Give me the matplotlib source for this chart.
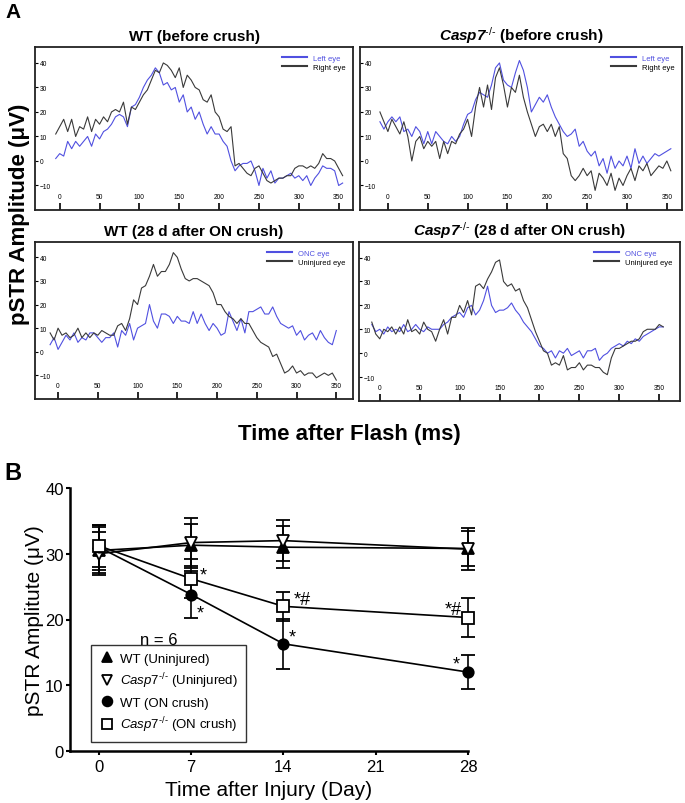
import numpy as np
import matplotlib
matplotlib.use("Agg")
import matplotlib.pyplot as plt
from matplotlib.lines import Line2D

plt.rcParams["font.family"] = ["Liberation Sans", "DejaVu Sans"]
plt.rcParams["mathtext.fontset"] = "custom"
plt.rcParams["mathtext.rm"] = "Liberation Sans"
plt.rcParams["mathtext.it"] = "Liberation Sans:italic"
plt.rcParams["mathtext.bf"] = "Liberation Sans:bold:italic"

nan = np.nan

# ---- panel A: pSTR traces (time in ms, amplitude in uV) ----
t_ms = [-10, -5, 0, 5, 10, 15, 20, 25, 30, 35, 40, 45, 50, 55, 60, 65, 70, 75,
        80, 85, 90, 95, 100, 105, 110, 115, 120, 125, 130, 135, 140, 145, 150,
        155, 160, 165, 170, 175, 180, 185, 190, 195, 200, 205, 210, 215, 220,
        225, 230, 235, 240, 245, 250, 255, 260, 265, 270, 275, 280, 285, 290,
        295, 300, 305, 310, 315, 320, 325, 330, 335, 340, 345, 350, 355]

wt_pre_left = [nan, 1, 3, 2, 8, 5, 8, 6, 8, 10,
               6, 11, 9, 12, 13, 15, 18, 19, 18, 14,
               22, 23, 26, 30, 33, 35, 38, 36, 31, 32,
               29, 30, 24, 27, 20, 22, 17, 20, 15, 11,
               14, 11, 11, 8, 6, 0, -4, -2, -1, -1,
               0, -4, -10, -3, -7, -4, -9, -7, -7, -6,
               -5, -7, -6, -8, -6, -10, -7, -5, -2, -3,
               -3, -4, -10, -9]
wt_pre_right = [nan, 11, 14, 17, 12, 17, 10, 14, 13, 18,
                12, 17, 15, 18, 16, 20, 21, 20, 24, 15,
                22, 21, 24, 27, 29, 33, 37, 36, 40, 39,
                37, 34, 38, 30, 35, 33, 30, 29, 25, 24,
                27, 20, 18, 13, 12, 14, -2, -1, -3, -5,
                -6, -3, -2, -5, -8, -9, -8, -7, -7, -6,
                -6, -3, -2, -2, -3, -2, -3, -1, 3, 1,
                1, 0, -3, -6]

casp_pre_left = [16, 13, 16, 18, 16, 18, 12, 13, 10, 14,
                 12, 7, 12, 7, 12, 10, 8, 7, 10, 8,
                 10, 15, 19, 20, 25, 28, 27, 26, 31, 38,
                 40, 33, 31, 30, 36, 41, 37, 30, 20, 23,
                 26, 24, 27, 22, 18, 15, 12, 10, 11, 13,
                 6, 8, 4, 2, 4, -2, 1, -5, 2, -3,
                 0, -2, 2, -3, 5, -1, 2, -1, 1, 3,
                 2, 3, 4, 5]
casp_pre_right = [20, 16, 12, 17, 14, 11, 16, 10, 0, 8,
                  10, 5, 8, 6, 8, 1, 8, 3, 8, 7,
                  11, 13, 17, 10, 22, 30, 22, 31, 21, 34,
                  38, 31, 22, 30, 28, 35, 26, 20, 15, 10,
                  14, 15, 12, 15, 10, 14, 3, 1, -6, -8,
                  -6, -3, -6, -4, -12, -5, -7, -10, -5, -12,
                  -7, -10, -6, -3, -8, -2, -4, -1, -6, -4,
                  -2, -3, 0, -4]

wt_onc_onc = [3, 6, 1, 4, 7, 5, 8, 4, 6, 5,
              8, 8, 6, 4, 6, 6, 8, 2, 9, 7,
              12, 5, 10, 11, 12, 20, 13, 10, 16, 16,
              15, 12, 15, 13, 13, 12, 17, 12, 16, 12,
              9, 12, 10, 7, 8, 17, 13, 9, 14, 8,
              17, 17, 18, 19, 16, 16, 19, 15, 12, 11,
              10, 11, 7, 9, 5, 7, 8, 5, 9, 6,
              4, 3, 9, nan]
wt_onc_uninj = [8, 5, 10, 7, 8, 6, 7, 10, 6, 8,
                6, 8, 7, 9, 8, 7, 7, 11, 12, 9,
                14, 22, 20, 27, 28, 32, 37, 32, 34, 34,
                37, 42, 40, 35, 31, 30, 31, 31, 30, 29,
                28, 25, 20, 20, 17, 15, 14, 12, 14, 12,
                12, 9, 6, 4, 3, 2, -2, -1, -5, -9,
                -8, -6, -9, -8, -10, -9, -9, -11, -10, -9,
                -10, -9, -12, nan]

casp_onc_onc = [12, 9, 10, 8, 11, 9, 10, 9, 12, 9,
                10, 12, 10, 9, 11, 10, 10, 10, 12, 13,
                15, 16, 17, 15, 19, 20, 16, 18, 22, 28,
                20, 17, 18, 18, 19, 21, 18, 16, 13, 11,
                9, 6, 3, 2, 0, 1, -2, 1, 0, 2,
                -1, 0, 1, -2, 1, 1, 2, -3, -1, 0,
                2, 3, 4, 3, 5, 4, 6, 5, 7, 8,
                9, 10, 11, 11]
casp_onc_uninj = [13, 8, 6, 10, 9, 11, 8, 11, 8, 14,
                  9, 10, 8, 13, 10, 9, 5, 10, 14, 8,
                  15, 15, 20, 17, 22, 16, 28, 29, 27, 31,
                  34, 38, 39, 30, 28, 29, 26, 27, 22, 19,
                  14, 9, 5, 1, 0, -5, -4, -5, -1, -7,
                  -6, -6, -4, -7, -5, -5, -6, -6, -8, -9,
                  -2, 2, 2, 3, 4, 5, 5, 6, 9, 10,
                  10, 10, 12, 11]

trace_xticks = [0, 50, 100, 150, 200, 250, 300, 350]
trace_yticks = [-10, 0, 10, 20, 30, 40]

# ---- panel B: pSTR amplitude over time after injury ----
days = [0, 7, 14, 28]
day_ticks = [0, 7, 14, 21, 28]
wt_uninj = [30.5, 31.3, 31.0, 30.8]
wt_uninj_sem = [3.5, 3.2, 3.2, 2.6]
casp_uninj = [30.0, 31.7, 32.0, 30.7]
casp_uninj_sem = [3.3, 3.8, 3.1, 3.2]
wt_onc = [31.0, 23.8, 16.3, 12.0]
wt_onc_sem = [3.4, 3.6, 3.8, 2.6]
casp_onc = [31.2, 26.2, 22.0, 20.3]
casp_onc_sem = [3.2, 3.0, 2.2, 3.0]

BLUE = "#5050e0"
GREY = "#3a3a3a"
W, H = 685, 804
CASP = "Casp7^{\u2010/\u2010}"

fig = plt.figure(figsize=(W / 100, H / 100), dpi=100)


def add_box(left, top, right, bottom):
    return fig.add_axes([left / W, 1 - bottom / H, (right - left) / W, (bottom - top) / H])


def trace_panel(ax, title, blue_vals, black_vals, labels, xlim):
    t = np.array(t_ms, dtype=float)
    ax.plot(t, np.array(blue_vals, dtype=float), color=BLUE, lw=0.8, label=labels[0])
    ax.plot(t, np.array(black_vals, dtype=float), color=GREY, lw=0.8, label=labels[1])
    ax.set_xlim(*xlim)
    ax.set_ylim(-20, 46.5)
    ax.set_xticks(trace_xticks)
    ax.set_yticks(trace_yticks)
    ax.tick_params(axis="x", direction="in", length=5, width=1.2, pad=-12, labelsize=4.8)
    ax.tick_params(axis="y", direction="in", length=2.5, width=0.8, pad=-3.5, labelsize=4.8)
    plt.setp(ax.get_yticklabels(), ha="left")
    for sp in ax.spines.values():
        sp.set_linewidth(1.3)
        sp.set_color("#222222")
    ax.set_title(title, fontsize=11, fontweight="bold", pad=5)
    leg = ax.legend(loc="upper right", frameon=False, fontsize=5.5, handlelength=3.2,
                    borderaxespad=0.6, labelspacing=0.2, labelcolor=[BLUE, "black"])
    for ln in leg.get_lines():
        ln.set_linewidth(1.5)


ax1 = add_box(35, 48, 353, 211)
trace_panel(ax1, "WT (before crush)", wt_pre_left, wt_pre_right,
            ["Left eye", "Right eye"], (-31, 368))
ax2 = add_box(360, 48, 682, 211)
trace_panel(ax2, "$\\mathbf{" + CASP.replace("^", "}^") + "$ (before crush)",
            casp_pre_left, casp_pre_right, ["Left eye", "Right eye"], (-35, 369))
ax3 = add_box(35, 243, 353, 400)
trace_panel(ax3, "WT (28 d after ON crush)", wt_onc_onc, wt_onc_uninj,
            ["ONC eye", "Uninjured eye"], (-29, 371))
ax4 = add_box(359, 243, 680, 402)
trace_panel(ax4, "$\\mathbf{" + CASP.replace("^", "}^") + "$ (28 d after ON crush)",
            casp_onc_onc, casp_onc_uninj, ["ONC eye", "Uninjured eye"], (-26, 376))

fig.text(20 / W, 1 - 214 / H, "pSTR Amplitude (\u03bcV)", rotation=90, fontsize=16,
         fontweight="bold", ha="center", va="center")
fig.text(349 / W, 1 - 435 / H, "Time after Flash (ms)", fontsize=16,
         fontweight="bold", ha="center", va="center")
fig.text(13 / W, 1 - 13 / H, "A", fontsize=15, fontweight="bold", ha="center", va="center")
fig.text(13 / W, 1 - 474 / H, "B", fontsize=17, fontweight="bold", ha="center", va="center")

# ---- panel B ----
axb = add_box(70, 489, 468, 752)
casp_lab = "$\\mathit{" + CASP.replace("^", "}^") + "$"
series = [
    (wt_uninj, wt_uninj_sem, "^", "black", 8, "WT (Uninjured)"),
    (casp_uninj, casp_uninj_sem, "v", "white", 8, casp_lab + " (Uninjured)"),
    (wt_onc, wt_onc_sem, "o", "black", 7.5, "WT (ON crush)"),
    (casp_onc, casp_onc_sem, "s", "white", 8, casp_lab + " (ON crush)"),
]
handles = []
for vals, sem, mk, face, ms, lab in series:
    cont = axb.errorbar(days, vals, yerr=sem, fmt="-", marker=mk, color="black", mfc=face,
                        mec="black", ms=ms, mew=1.3, lw=1.2, elinewidth=1.2, capsize=5,
                        capthick=1.2)
    for art in cont.get_children():
        art.set_clip_on(False)
    handles.append(Line2D([], [], ls="none", marker=mk, color="black", mfc=face,
                          mec="black", ms=ms - 0.5, mew=1.3, label=lab))

axb.set_xlim(-2.2, 28)
axb.set_ylim(0, 40)
axb.set_xticks(day_ticks)
axb.set_yticks([0, 10, 20, 30, 40])
axb.spines["top"].set_visible(False)
axb.spines["right"].set_visible(False)
axb.spines["left"].set_linewidth(1.8)
axb.spines["bottom"].set_linewidth(1.8)
axb.tick_params(direction="out", length=3, width=1.5, pad=1.5, labelsize=12)
axb.tick_params(axis="x", pad=3)
axb.set_xlabel("Time after Injury (Day)", fontsize=15, labelpad=4)
axb.set_ylabel("pSTR Amplitute (\u03bcV)", fontsize=15, labelpad=1)

leg = axb.legend(handles=handles, loc="lower left", bbox_to_anchor=(0.052, 0.034),
                 frameon=True, fancybox=False, edgecolor="black", fontsize=9.5,
                 handletextpad=0.4, labelspacing=0.45, borderpad=0.6, handlelength=1.2,
                 borderaxespad=0)
leg.get_frame().set_linewidth(1.0)

axb.text(4.5, 17, "n = 6", ha="center", va="center", fontsize=12)

marks = [
    (7, casp_onc[1], "*", (8.6, 3)),
    (7, wt_onc[1], "*", (6.5, -13)),
    (14, casp_onc[2], "*#", (13.5, 5)),
    (14, wt_onc[2], "*", (6.3, 5)),
    (28, casp_onc[3], "*#", (-10.6, 6)),
    (28, wt_onc[3], "*", (-8.5, 6)),
]
for x, y, s, off in marks:
    axb.annotate(s, xy=(x, y), xytext=off, textcoords="offset points",
                 ha="center", va="center", fontsize=13)

fig.savefig("out.png", dpi=100)
